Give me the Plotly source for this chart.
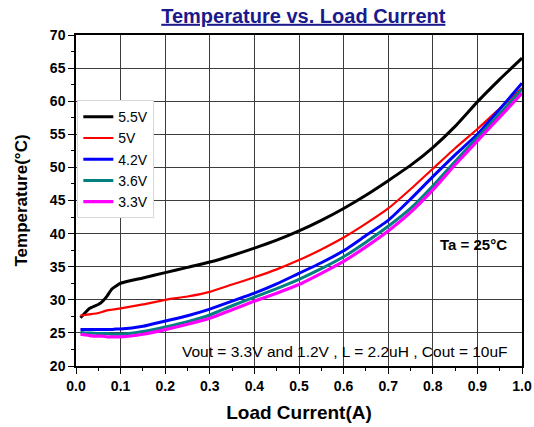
import plotly.graph_objects as go

x = [0.01, 0.02, 0.03, 0.05, 0.06, 0.07, 0.08, 0.09, 0.10, 0.15, 0.20, 0.25, 0.30, 0.35, 0.40,
     0.45, 0.50, 0.55, 0.60, 0.65, 0.70, 0.75, 0.80, 0.85, 0.90, 0.95, 1.00]

t_55 = [27.3, 28.0, 28.7, 29.3, 29.8, 30.6, 31.6, 32.1, 32.5, 33.3, 34.1, 34.9, 35.7, 36.7, 37.8,
        39.0, 40.4, 42.0, 43.8, 45.8, 48.0, 50.3, 53.0, 56.2, 59.9, 63.3, 66.5]
t_50 = [27.6, 27.7, 27.8, 28.0, 28.2, 28.4, 28.5, 28.6, 28.7, 29.3, 30.0, 30.5, 31.2, 32.3, 33.4,
        34.6, 36.0, 37.6, 39.4, 41.5, 43.8, 46.7, 49.8, 52.9, 55.8, 58.9, 62.0]
t_42 = [25.5, 25.5, 25.5, 25.5, 25.5, 25.5, 25.5, 25.6, 25.6, 26.0, 26.8, 27.6, 28.6, 29.8, 31.0,
        32.4, 34.0, 35.6, 37.4, 39.7, 42.0, 45.2, 48.6, 51.9, 55.0, 58.8, 62.7]
t_36 = [25.1, 25.0, 25.0, 24.9, 24.9, 24.9, 24.8, 24.8, 24.8, 25.2, 25.9, 26.7, 27.7, 29.1, 30.4,
        31.7, 33.1, 34.7, 36.5, 38.7, 41.1, 43.8, 47.2, 50.9, 54.5, 58.1, 61.8]
t_33 = [24.8, 24.7, 24.6, 24.5, 24.5, 24.4, 24.4, 24.4, 24.4, 24.8, 25.5, 26.3, 27.2, 28.5, 29.8,
        31.0, 32.3, 34.0, 35.8, 38.0, 40.4, 43.2, 46.6, 50.4, 54.0, 57.6, 61.2]

series = [
    ("5.5V", t_55, "#000000", 3),
    ("5V", t_50, "#ff0000", 2.2),
    ("4.2V", t_42, "#0000ff", 3),
    ("3.6V", t_36, "#008080", 3),
    ("3.3V", t_33, "#ff00ff", 3.2),
]

FONT = "Arial, Liberation Sans"

fig = go.Figure()
for name, ys, color, w in series:
    fig.add_trace(go.Scatter(x=x, y=ys, mode="lines", name=name,
                             line=dict(color=color, width=w, shape="spline", smoothing=0.5)))

axis_common = dict(
    showline=True, linecolor="#000000", linewidth=1.5, mirror=True,
    showgrid=True, gridcolor="#3c3c3c", gridwidth=1,
    ticks="outside", ticklen=6, tickcolor="#000000",
    tickfont=dict(family=FONT, size=14, color="#000000", weight="bold"),
    zeroline=False, automargin=False,
)

fig.update_xaxes(range=[0, 1.0], dtick=0.1, tickformat=".1f",
                 minor=dict(dtick=0.05, ticks="outside", ticklen=3, tickcolor="#000000", showgrid=False),
                 title=dict(text="Load Current(A)", font=dict(family=FONT, size=19,
                                                                color="#000000", weight="bold"), standoff=13),
                 **axis_common)
fig.update_yaxes(range=[20, 70], dtick=5,
                 minor=dict(dtick=2.5, ticks="outside", ticklen=3, tickcolor="#000000", showgrid=False),
                 title=dict(text="Temperature(°C)", font=dict(family=FONT, size=17,
                                                              color="#000000", weight="bold"), standoff=18),
                 **axis_common)

fig.add_annotation(x=0.97, y=38.3, xref="x", yref="y", text="Ta = 25°C", showarrow=False,
                   xanchor="right", font=dict(family=FONT, size=15, color="#000000", weight="bold"))
fig.add_annotation(x=0.972, y=22.2, xref="x", yref="y",
                   text="Vout = 3.3V and 1.2V , L = 2.2uH , Cout = 10uF", showarrow=False,
                   xanchor="right", font=dict(family=FONT, size=15.5, color="#000000"))

fig.update_layout(
    width=534, height=427,
    margin=dict(l=76, r=12, t=35, b=61),
    paper_bgcolor="#ffffff", plot_bgcolor="#ffffff",
    title=dict(text="<u>Temperature vs. Load Current</u>", x=0.568, xanchor="center", y=0.963, yanchor="middle",
               font=dict(family=FONT, size=20, color="#1a1a8c", weight="bold")),
    legend=dict(x=0.003, y=0.803, xanchor="left", yanchor="top", bgcolor="#ffffff",
                bordercolor="#d8d8d8", borderwidth=1,
                font=dict(family=FONT, size=14, color="#000000"),
                itemwidth=30, tracegroupgap=0),
    showlegend=True,
)

fig.write_html("out.html", config={"displayModeBar": False},
               post_script="document.body.style.margin='0';")
